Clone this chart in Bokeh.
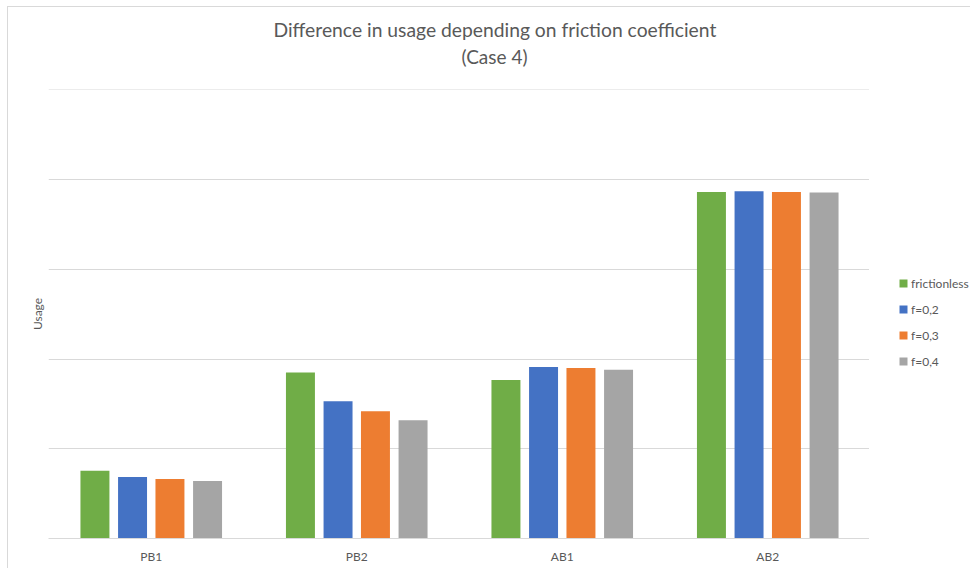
from bokeh.plotting import figure
from bokeh.layouts import row
from bokeh.models import (ColumnDataSource, FactorRange, Range1d, FixedTicker,
                          Legend, LegendItem, Title)
from bokeh.transform import dodge
from bokeh.embed import file_html
from bokeh.resources import INLINE

# Structural members and their usage for each friction setting
categories = ["PB1", "PB2", "AB1", "AB2"]
frictionless = [0.756, 1.849, 1.767, 3.861]
f_02 = [0.685, 1.531, 1.910, 3.869]
f_03 = [0.663, 1.419, 1.899, 3.861]
f_04 = [0.640, 1.318, 1.880, 3.857]
grid_levels = [0, 1, 2, 3, 4, 5]

series_names = ["frictionless", "f=0,2", "f=0,3", "f=0,4"]
series_colors = ["#70AD47", "#4472C4", "#ED7D31", "#A5A5A5"]

FONT = "Lato"
TEXT = "#595959"
GRID = "#D9D9D9"
BORDER = "1px solid #D9D9D9"

source = ColumnDataSource(data=dict(
    cat=categories, s0=frictionless, s1=f_02, s2=f_03, s3=f_04,
))

# ---- main chart -------------------------------------------------------------
p = figure(
    width=862, height=562,
    x_range=FactorRange(factors=categories, range_padding=0),
    y_range=Range1d(0, 5.004),
    output_backend="svg", toolbar_location=None,
    min_border_left=40, min_border_right=0,
    min_border_top=82, min_border_bottom=31,
)
p.margin = (6, 0, 0, 7)
p.styles = {"border-left": BORDER, "border-top": BORDER}
p.outline_line_color = None
p.background_fill_color = "white"
p.border_fill_color = "white"

offsets = [-0.274, -0.091, 0.091, 0.274]
for i, color in enumerate(series_colors):
    p.vbar(x=dodge("cat", offsets[i], range=p.x_range), top="s%d" % i,
           width=0.141, source=source, fill_color=color, line_color=None)

p.xaxis.axis_line_color = GRID
p.xaxis.major_tick_line_color = None
p.xaxis.minor_tick_line_color = None
p.xaxis.major_tick_out = 0
p.xaxis.major_tick_in = 0
p.xaxis.major_label_text_color = TEXT
p.xaxis.major_label_text_font = FONT
p.xaxis.major_label_text_font_size = "12px"
p.xaxis.major_label_standoff = 10
p.xgrid.grid_line_color = None

# value axis carries only its caption; the grid keeps the levels
p.yaxis.ticker = FixedTicker(ticks=[])
p.yaxis.axis_line_color = None
p.yaxis.major_tick_line_color = None
p.yaxis.minor_tick_line_color = None
p.yaxis.major_tick_out = 0
p.yaxis.major_tick_in = 0
p.yaxis.major_label_standoff = 0
p.yaxis.axis_label = "Usage"
p.yaxis.axis_label_standoff = 4
p.yaxis.axis_label_text_font = FONT
p.yaxis.axis_label_text_font_size = "12px"
p.yaxis.axis_label_text_font_style = "normal"
p.yaxis.axis_label_text_color = TEXT

p.ygrid.ticker = FixedTicker(ticks=grid_levels)
p.ygrid.grid_line_color = GRID
p.ygrid.grid_line_width = 1

# Title block: panels stack upward from the frame (spacer, second line, first line)
p.add_layout(Title(text=" ", standoff=7, text_font=FONT, text_font_size="10px"), "above")
p.add_layout(Title(text="(Case 4)", align="left", offset=413, standoff=2,
                   text_font=FONT, text_font_size="19px",
                   text_font_style="normal", text_color=TEXT), "above")
p.add_layout(Title(text="Difference in usage depending on friction coefficient",
                   align="left", offset=225, standoff=2,
                   text_font=FONT, text_font_size="19.3px",
                   text_font_style="normal", text_color=TEXT), "above")

# ---- legend strip to the right of the chart --------------------------------
# Its ranges sit apart from the series values, so the swatch renderers only
# feed the legend and draw nothing themselves.
pl = figure(
    width=101, height=562,
    x_range=Range1d(-2, -1), y_range=Range1d(0, 1),
    x_axis_type=None, y_axis_type=None,
    output_backend="svg", toolbar_location=None,
    min_border_left=0, min_border_right=0,
    min_border_top=0, min_border_bottom=0,
)
pl.margin = (6, 0, 0, 0)
pl.styles = {"border-top": BORDER}
pl.outline_line_color = None
pl.grid.visible = False
pl.background_fill_color = "white"
pl.border_fill_color = "white"

swatches = [pl.vbar(x="s%d" % i, top="s%d" % i, width=0.1, source=source,
                    fill_color=c, line_color=None)
            for i, c in enumerate(series_colors)]

legend = Legend(
    items=[LegendItem(label=n, renderers=[r]) for n, r in zip(series_names, swatches)],
    location=(29, 167),
    orientation="vertical",
    glyph_width=10, glyph_height=10,
    label_height=20, spacing=6, label_standoff=3,
    padding=0, margin=0,
    border_line_color=None, background_fill_alpha=0,
    label_text_font=FONT, label_text_font_size="12px",
    label_text_color=TEXT, label_text_baseline="middle",
)
pl.add_layout(legend)

layout = row(p, pl)
open("out.html", "w").write(file_html(layout, INLINE))
